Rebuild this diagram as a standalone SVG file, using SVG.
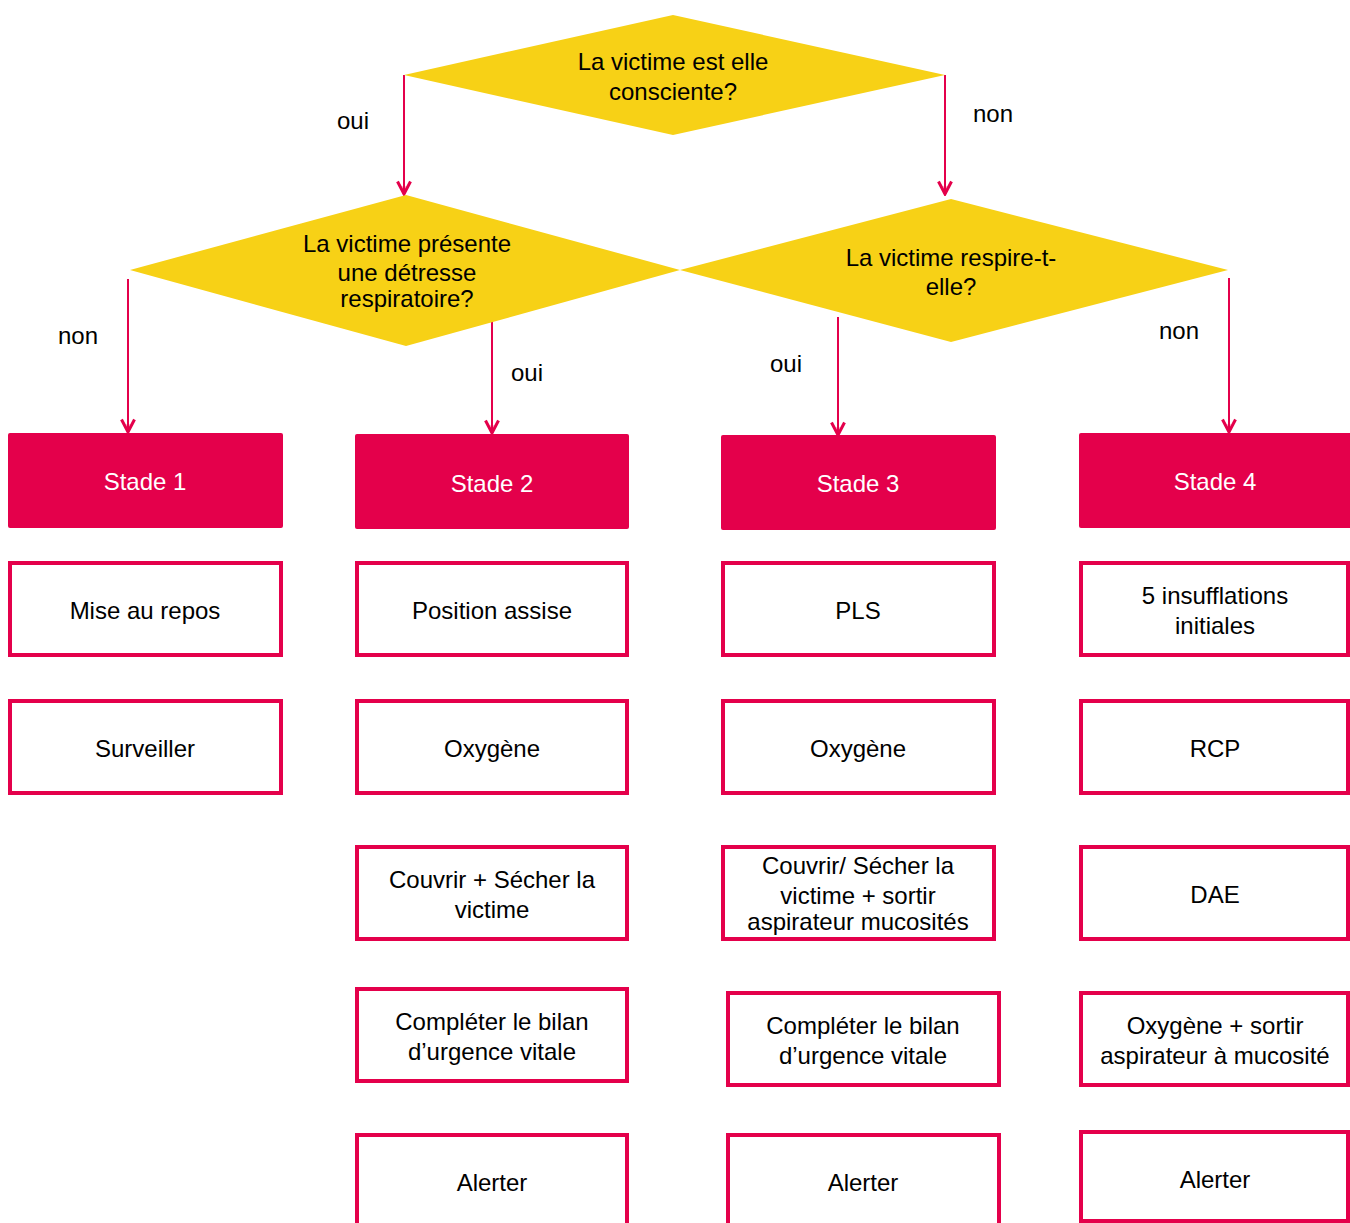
<svg xmlns="http://www.w3.org/2000/svg" width="1350" height="1223" viewBox="0 0 1350 1223">
<style>
text{font-family:"Liberation Sans",Arial,sans-serif;font-size:24px;text-anchor:middle;fill:#000}
.dia{fill:#F7D116}
.stade{fill:#E4004B}
.stade text{fill:#fff}
.box{fill:#fff;stroke:#E4004B;stroke-width:4}
.con{stroke:#E4004B;stroke-width:2;fill:none;marker-end:url(#ah)}
</style>
<defs>
<marker id="ah" viewBox="0 0 16 16" refX="15" refY="8" markerWidth="16" markerHeight="16" markerUnits="userSpaceOnUse" orient="auto">
<path d="M1.5,1.5 L14,8 L1.5,14.5" stroke="#E4004B" stroke-width="3" fill="none" stroke-linejoin="miter"/>
<path d="M6,8 L14,8" stroke="#E4004B" stroke-width="2.5"/>
</marker>
</defs>
<rect width="1350" height="1223" fill="#fff"/>

<g id="connectors">
<path class="con" d="M404,75 V195"/>
<path class="con" d="M945,75 V195"/>
<path class="con" d="M128,279 V433"/>
<path class="con" d="M492,315 V434"/>
<path class="con" d="M838,317 V436"/>
<path class="con" d="M1229,278 V433"/>
<text x="353" y="129">oui</text>
<text x="993" y="122">non</text>
<text x="78" y="344">non</text>
<text x="527" y="381">oui</text>
<text x="786" y="372">oui</text>
<text x="1179" y="339">non</text>
</g>

<g id="d1">
<polygon class="dia" points="673,15 945,75 673,135 404,75"/>
<text x="673" y="70">La victime est elle</text>
<text x="673" y="100">consciente?</text>
</g>
<g id="d2">
<polygon class="dia" points="406,195 680,270 406,346 130,270"/>
<text x="407" y="252">La victime présente</text>
<text x="407" y="281">une détresse</text>
<text x="407" y="307">respiratoire?</text>
</g>
<g id="d3">
<polygon class="dia" points="951,199 1228,270 951,342 680,270"/>
<text x="951" y="266">La victime respire-t-</text>
<text x="951" y="295">elle?</text>
</g>

<g id="s1" class="stade"><rect x="8" y="433" width="275" height="95" rx="2"/><text x="145" y="490">Stade 1</text></g>
<g id="s2" class="stade"><rect x="355" y="434" width="274" height="95" rx="2"/><text x="492" y="492">Stade 2</text></g>
<g id="s3" class="stade"><rect x="721" y="435" width="275" height="95" rx="2"/><text x="858" y="492">Stade 3</text></g>
<g id="s4" class="stade"><rect x="1079" y="433" width="275" height="95" rx="2"/><text x="1215" y="490">Stade 4</text></g>

<g id="c1a"><rect class="box" x="10" y="563" width="271" height="92"/><text x="145" y="619">Mise au repos</text></g>
<g id="c1b"><rect class="box" x="10" y="701" width="271" height="92"/><text x="145" y="757">Surveiller</text></g>

<g id="c2a"><rect class="box" x="357" y="563" width="270" height="92"/><text x="492" y="619">Position assise</text></g>
<g id="c2b"><rect class="box" x="357" y="701" width="270" height="92"/><text x="492" y="757">Oxygène</text></g>
<g id="c2c"><rect class="box" x="357" y="847" width="270" height="92"/><text x="492" y="888">Couvrir + Sécher la</text><text x="492" y="918">victime</text></g>
<g id="c2d"><rect class="box" x="357" y="989" width="270" height="92"/><text x="492" y="1030">Compléter le bilan</text><text x="492" y="1060">d’urgence vitale</text></g>
<g id="c2e"><rect class="box" x="357" y="1135" width="270" height="100"/><text x="492" y="1191">Alerter</text></g>

<g id="c3a"><rect class="box" x="723" y="563" width="271" height="92"/><text x="858" y="619">PLS</text></g>
<g id="c3b"><rect class="box" x="723" y="701" width="271" height="92"/><text x="858" y="757">Oxygène</text></g>
<g id="c3c"><rect class="box" x="723" y="847" width="271" height="92"/><text x="858" y="874">Couvrir/ Sécher la</text><text x="858" y="904">victime + sortir</text><text x="858" y="930">aspirateur mucosités</text></g>
<g id="c3d"><rect class="box" x="728" y="993" width="271" height="92"/><text x="863" y="1034">Compléter le bilan</text><text x="863" y="1064">d’urgence vitale</text></g>
<g id="c3e"><rect class="box" x="728" y="1135" width="271" height="100"/><text x="863" y="1191">Alerter</text></g>

<g id="c4a"><rect class="box" x="1081" y="563" width="267" height="92"/><text x="1215" y="604">5 insufflations</text><text x="1215" y="634">initiales</text></g>
<g id="c4b"><rect class="box" x="1081" y="701" width="267" height="92"/><text x="1215" y="757">RCP</text></g>
<g id="c4c"><rect class="box" x="1081" y="847" width="267" height="92"/><text x="1215" y="903">DAE</text></g>
<g id="c4d"><rect class="box" x="1081" y="993" width="267" height="92"/><text x="1215" y="1034">Oxygène + sortir</text><text x="1215" y="1064">aspirateur à mucosité</text></g>
<g id="c4e"><rect class="box" x="1081" y="1132" width="267" height="89"/><text x="1215" y="1188">Alerter</text></g>
</svg>
